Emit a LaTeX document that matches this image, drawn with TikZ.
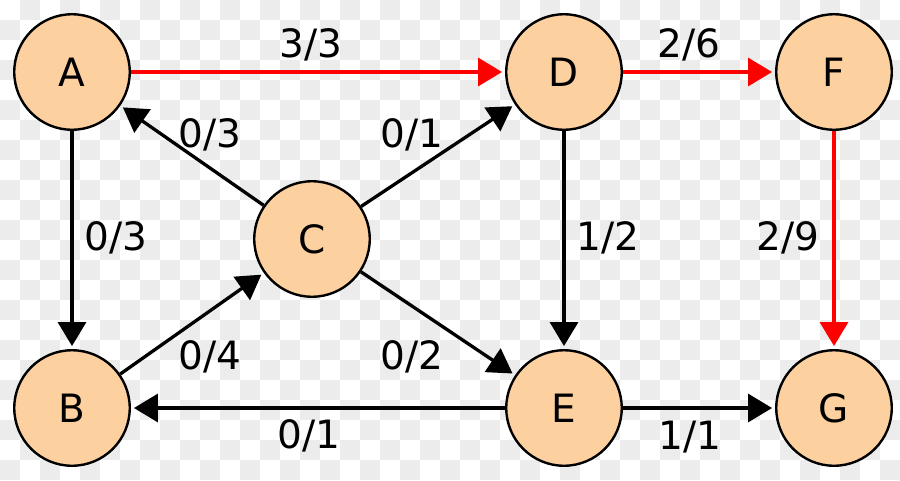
\documentclass[tikz,border=0pt]{standalone}
\usepackage{fontspec}
\setmainfont{DejaVu Sans}
\usetikzlibrary{arrows.meta,positioning}
\definecolor{peach}{RGB}{253,208,160}
\definecolor{chkgrey}{RGB}{236,236,236}
\definecolor{flowred}{RGB}{255,0,0}

\begin{document}
\begin{tikzpicture}[x=1pt,y=-1pt,node distance=270pt]
                \tikzstyle{vertex}=[fill=peach,draw=black,circle,minimum size=115.5pt,inner sep=0pt,line width=2.4pt,font=\fontsize{39}{39}\selectfont]
                \tikzstyle{flow}=[inner sep=0pt,anchor=base,font=\fontsize{39}{39}\selectfont]
                \tikzstyle{flowedge}=[-{Triangle[length=24pt,width=28pt]},line width=3.3pt,shorten >=3pt,black]
                \tikzstyle{augedge}=[flowedge,flowred]

                % checkered background
                \useasboundingbox (0,0) rectangle (900,480);
                \fill[white] (0,0) rectangle (900,480);
                \foreach \i in {0,...,44}
                  \foreach \j in {0,...,23}{
                    \pgfmathtruncatemacro{\odd}{mod(\i+\j,2)}
                    \ifnum\odd=1 \fill[chkgrey] (20*\i,20*\j) rectangle ++(20,20); \fi
                  }

                \node[vertex] (A) at (72,72) {A};
                \node[vertex] (D) [right of=A, node distance=492pt] {D};
                \node[vertex] (F) [right of=D] {F};
                \node[vertex] (B) [below of=A, node distance=336pt] {B};
                \node[vertex] (E) [below of=D, node distance=336pt] {E};
                \node[vertex] (G) [below of=F, node distance=336pt] {G};
                \node[vertex] (C) at (312,239) {C};

                \path [flowedge] (A) edge (B)
                                 (C) edge (A)
                                     edge (D)
                                     edge (E)
                                 (B) edge (C)
                                 (D) edge (E)
                                 (E) edge (B)
                                     edge (G);
                \path [augedge] (A) edge (D)
                                (D) edge (F)
                                (F) edge (G);

                % flow / capacity
                \node[flow] (fAD) at (311,57) {3/3};
                \node[flow] (fDF) at (689,57) {2/6};
                \node[flow] (fCA) at (210,147) {0/3};
                \node[flow] (fCD) at (412,147) {0/1};
                \node[flow] (fAB) at (116,250) {0/3};
                \node[flow] (fDE) at (608,250) {1/2};
                \node[flow] (fFG) at (788,250) {2/9};
                \node[flow] (fBC) at (210,369) {0/4};
                \node[flow] (fCE) at (412,369) {0/2};
                \node[flow] (fEB) at (309,448) {0/1};
                \node[flow] (fEG) at (690,449) {1/1};
\end{tikzpicture}
\end{document}
